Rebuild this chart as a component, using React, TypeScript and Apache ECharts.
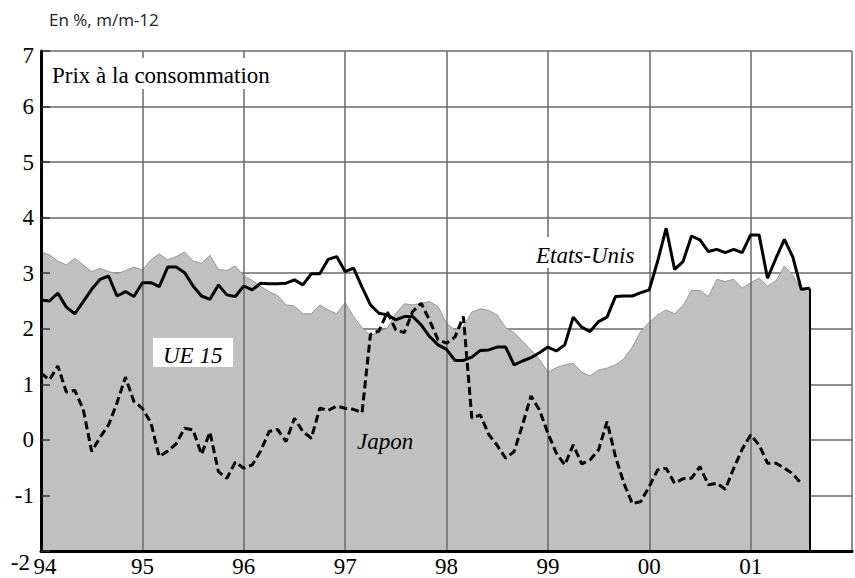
import React, { useEffect, useRef } from 'react';
import * as echarts from 'echarts';

// Monthly data, Jan 1994 (index 0) .. Aug 2001 (index 91)
const yearLabels = ['94', '95', '96', '97', '98', '99', '00', '01'];

const ue15 = [
  3.38, 3.33, 3.22, 3.15, 3.27, 3.15, 3.03, 3.09, 3.03, 2.99, 3.05, 3.11,
  3.06, 3.24, 3.35, 3.24, 3.30, 3.38, 3.22, 3.18, 3.32, 3.07, 3.05, 3.13,
  2.95, 2.87, 2.76, 2.67, 2.60, 2.43, 2.41, 2.27, 2.27, 2.43, 2.34, 2.27,
  2.47, 2.22, 2.02, 1.88, 1.95, 2.01, 2.27, 2.45, 2.43, 2.46, 2.49, 2.40,
  2.10, 1.98, 2.04, 2.30, 2.36, 2.33, 2.25, 2.02, 1.93, 1.78, 1.62, 1.45,
  1.22, 1.30, 1.35, 1.38, 1.22, 1.15, 1.26, 1.29, 1.35, 1.46, 1.67, 1.95,
  2.12, 2.25, 2.34, 2.27, 2.42, 2.69, 2.69, 2.58, 2.89, 2.85, 2.89, 2.73,
  2.83, 2.91, 2.77, 2.86, 3.13, 2.96, 2.69, 2.72,
];

const etatsUnis = [
  2.52, 2.50, 2.64, 2.39, 2.27, 2.49, 2.71, 2.89, 2.95, 2.59, 2.67, 2.58,
  2.83, 2.83, 2.76, 3.11, 3.11, 3.01, 2.77, 2.59, 2.53, 2.79, 2.61, 2.58,
  2.77, 2.70, 2.82, 2.81, 2.81, 2.82, 2.88, 2.79, 2.99, 2.99, 3.25, 3.30,
  3.03, 3.09, 2.75, 2.43, 2.28, 2.25, 2.16, 2.22, 2.22, 2.07, 1.86, 1.71,
  1.63, 1.43, 1.43, 1.49, 1.61, 1.62, 1.67, 1.67, 1.35, 1.42, 1.48, 1.57,
  1.67, 1.60, 1.71, 2.21, 2.03, 1.95, 2.13, 2.21, 2.58, 2.59, 2.59, 2.65,
  2.70, 3.22, 3.81, 3.07, 3.21, 3.67, 3.60, 3.39, 3.43, 3.37, 3.43, 3.37,
  3.69, 3.69, 2.91, 3.27, 3.61, 3.29, 2.71, 2.73,
];

const japon = [
  1.20, 1.08, 1.33, 0.86, 0.89, 0.55, -0.21, 0.05, 0.27, 0.67, 1.13, 0.69,
  0.57, 0.31, -0.30, -0.20, -0.07, 0.21, 0.18, -0.26, 0.14, -0.57, -0.69, -0.40,
  -0.51, -0.45, -0.20, 0.15, 0.19, -0.03, 0.39, 0.15, 0.03, 0.57, 0.53, 0.61,
  0.57, 0.55, 0.49, 1.90, 1.96, 2.30, 1.98, 1.93, 2.31, 2.46, 2.15, 1.80,
  1.74, 1.85, 2.22, 0.39, 0.45, 0.10, -0.10, -0.33, -0.21, 0.27, 0.79, 0.54,
  0.12, -0.24, -0.45, -0.09, -0.43, -0.36, -0.18, 0.33, -0.30, -0.78, -1.15, -1.11,
  -0.84, -0.54, -0.51, -0.78, -0.70, -0.69, -0.48, -0.81, -0.78, -0.89, -0.51, -0.17,
  0.09, -0.09, -0.42, -0.42, -0.51, -0.61, -0.79,
];

const toPairs = (arr: number[]) => arr.map((v, i) => [i, v]);

const SERIF = 'Liberation Serif';

const serifText = (text: string, x: number, y: number, italic: boolean) => ({
  type: 'text',
  z: 100,
  x,
  y,
  style: {
    text,
    fontFamily: SERIF,
    fontSize: 23,
    fontStyle: italic ? 'italic' : 'normal',
    fill: '#000',
    verticalAlign: 'middle',
  },
});

export default function App() {
  const ref = useRef<HTMLDivElement>(null);

  useEffect(() => {
    if (!ref.current) return;
    const chart = echarts.init(ref.current, undefined, { renderer: 'svg' });
    const last = ue15.length - 1;
    const lbl = { fontFamily: SERIF, fontSize: 23, color: '#000' };

    const option: any = {
      animation: false,
      grid: { left: 41, right: 1, top: 51, bottom: 27, containLabel: false },
      xAxis: [
        {
          type: 'value',
          min: 0,
          max: 96,
          interval: 12,
          z: 3,
          axisLine: { show: true, onZero: false, lineStyle: { color: '#000', width: 3 } },
          axisTick: { show: false },
          splitLine: { show: true, lineStyle: { color: '#6a6a6a', width: 1.5 } },
          axisLabel: {
            ...lbl,
            margin: 4,
            formatter: (v: number) => {
              const s = yearLabels[Math.round(v / 12)];
              if (!s) return '';
              return v === 0 ? '{first|' + s + '}' : s;
            },
            rich: { first: { ...lbl, padding: [0, 0, 0, 8] } },
          },
        },
      ],
      yAxis: [
        {
          type: 'value',
          min: -2,
          max: 7,
          interval: 1,
          z: 0,
          axisLine: { show: false },
          axisTick: { show: false },
          splitLine: { show: true, lineStyle: { color: '#6a6a6a', width: 1.5 } },
          axisLabel: {
            ...lbl,
            margin: 7,
            formatter: (v: number) => (v === -2 ? '{low|-2}' : v === 7 ? '{top|7}' : String(v)),
            rich: {
              low: { ...lbl, padding: [22, 4, 0, 0] },
              top: { ...lbl, padding: [8, 0, 0, 0] },
            },
          },
        },
        {
          type: 'value',
          min: -2,
          max: 7,
          interval: 1,
          position: 'left',
          z: 6,
          axisLine: { show: true, onZero: false, lineStyle: { color: '#000', width: 3 } },
          axisTick: { show: true, inside: true, length: 9, lineStyle: { color: '#333', width: 1.5 } },
          axisLabel: { show: false },
          splitLine: { show: false },
        },
      ],
      series: [
        {
          name: 'UE 15',
          type: 'line',
          data: toPairs(ue15),
          symbol: 'none',
          z: 2,
          lineStyle: { color: '#999', width: 1 },
          areaStyle: { color: '#c0c0c0', origin: 'start', opacity: 1 },
        },
        {
          name: 'Etats-Unis',
          type: 'line',
          data: toPairs(etatsUnis),
          symbol: 'none',
          z: 5,
          lineStyle: { color: '#000', width: 3 },
          markLine: {
            silent: true,
            symbol: ['none', 'none'],
            label: { show: false },
            lineStyle: { color: '#000', width: 2, type: 'solid' },
            data: [[{ coord: [last, -2] }, { coord: [last, ue15[last]] }]],
          },
        },
        {
          name: 'Japon',
          type: 'line',
          data: toPairs(japon),
          symbol: 'none',
          z: 5,
          lineStyle: { color: '#000', width: 3, type: [8, 4] },
        },
      ],
      graphic: [
        {
          type: 'text',
          z: 100,
          x: 49,
          y: 19,
          style: {
            text: 'En %, m/m-12',
            fontFamily: 'Open Sans',
            fontSize: 17,
            fill: '#222',
            verticalAlign: 'middle',
          },
        },
        { type: 'rect', z: 99, shape: { x: 45, y: 58, width: 232, height: 31 }, style: { fill: '#fff' } },
        serifText('Prix à la consommation', 52, 75, false),
        { type: 'rect', z: 99, shape: { x: 529, y: 237, width: 116, height: 31 }, style: { fill: '#fff' } },
        serifText('Etats-Unis', 536, 255.5, true),
        { type: 'rect', z: 99, shape: { x: 153, y: 338, width: 80, height: 29 }, style: { fill: '#fff' } },
        serifText('UE 15', 163, 355.5, true),
        serifText('Japon', 357, 441.5, true),
      ],
    };

    chart.setOption(option);
    return () => chart.dispose();
  }, []);

  return (
    <div
      ref={ref}
      style={{ position: 'fixed', left: 0, top: 0, width: 855, height: 578, background: '#fff' }}
    />
  );
}
